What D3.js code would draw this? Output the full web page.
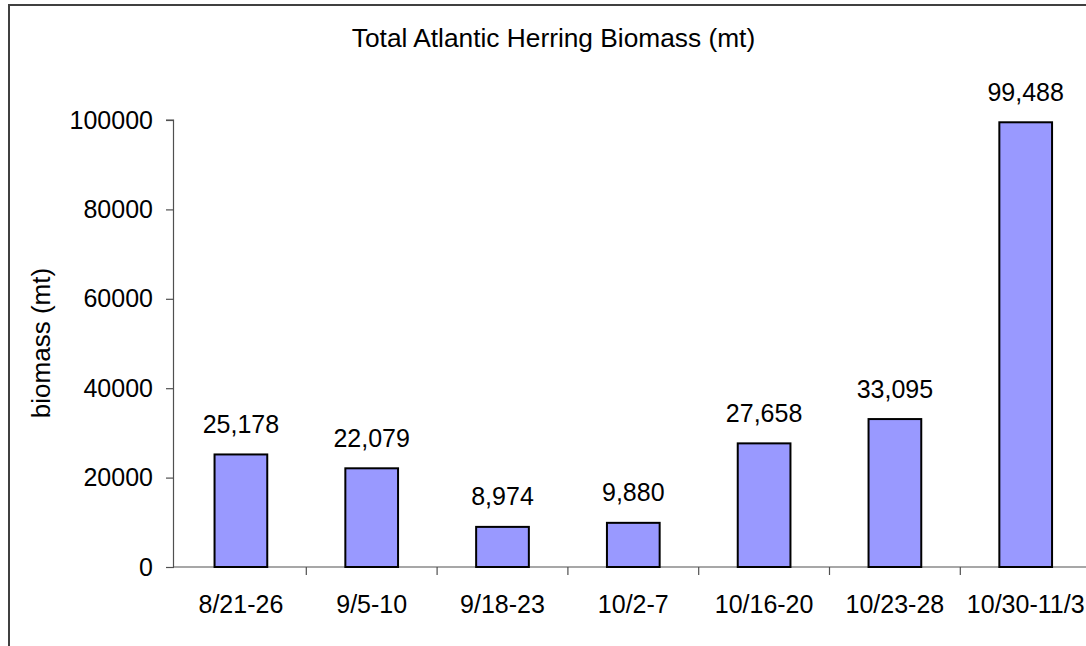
<!DOCTYPE html>
<html>
<head>
<meta charset="utf-8">
<script src="https://cdn.jsdelivr.net/npm/d3@7"></script>
<style>
  html, body { margin: 0; padding: 0; background: #fff; }
  svg { display: block; }
  text { font-family: "Liberation Sans", Arial, sans-serif; fill: #000; }
</style>
</head>
<body>
<svg id="chart" width="1086" height="646"></svg>
<script>
// Survey periods and total herring biomass (metric tons)
const periods = ["8/21-26", "9/5-10", "9/18-23", "10/2-7", "10/16-20", "10/23-28", "10/30-11/3"];
const biomass = [25178, 22079, 8974, 9880, 27658, 33095, 99488];
const yTicks = [0, 20000, 40000, 60000, 80000, 100000];
const chartTitle = "Total Atlantic Herring Biomass (mt)";
const yTitle = "biomass (mt)";

const svg = d3.select("#chart");
const W = 1086, H = 646;

// outer chart frame (extends past the right and bottom edges)
svg.append("rect")
  .attr("x", 9).attr("y", 5)
  .attr("width", W + 20).attr("height", H + 20)
  .attr("fill", "#fff")
  .attr("stroke", "#404040")
  .attr("stroke-width", 2);

const plotLeft = 174, plotTop = 120, plotBottom = 567;
const bandStep = 130.8;

const y = d3.scaleLinear().domain([0, 100000]).range([plotBottom, plotTop]);
const x = d3.scaleBand()
  .domain(periods)
  .range([plotLeft + 1.5, plotLeft + 1.5 + bandStep * periods.length])
  .padding(0);

const barW = x.bandwidth() * 0.403;

// title
svg.append("text")
  .attr("x", 553.5).attr("y", 47)
  .attr("text-anchor", "middle")
  .style("font-size", "26.3px")
  .text(chartTitle);

// y axis title
svg.append("text")
  .attr("transform", "translate(50,343) rotate(-90)")
  .attr("text-anchor", "middle")
  .style("font-size", "26px")
  .text(yTitle);

// y axis
const yAxis = svg.append("g")
  .attr("transform", `translate(${plotLeft},0)`)
  .call(d3.axisLeft(y).tickValues(yTicks).tickSize(8).tickPadding(13).tickFormat(d3.format("d")));
yAxis.selectAll("path, line").attr("stroke", "#505050").attr("stroke-width", 1.2);
yAxis.select(".domain").attr("d", `M-0.5,${plotBottom}V${plotTop}H-8`);
yAxis.selectAll("text")
  .style("font-family", '"Liberation Sans", Arial, sans-serif')
  .style("font-size", "25px")
  .attr("fill", "#000");

// x axis baseline
svg.append("line")
  .attr("x1", plotLeft).attr("x2", W + 10)
  .attr("y1", plotBottom).attr("y2", plotBottom)
  .attr("stroke", "#505050").attr("stroke-width", 1.2);

// category boundary ticks
const boundaries = periods.slice(1).map(p => x(p));
svg.selectAll(".xtick")
  .data(boundaries)
  .join("line")
  .attr("class", "xtick")
  .attr("x1", d => d).attr("x2", d => d)
  .attr("y1", plotBottom).attr("y2", plotBottom + 8)
  .attr("stroke", "#505050").attr("stroke-width", 1.2);

// category labels
svg.selectAll(".xlabel")
  .data(periods)
  .join("text")
  .attr("class", "xlabel")
  .attr("x", d => x(d) + x.bandwidth() / 2)
  .attr("y", 613)
  .attr("text-anchor", "middle")
  .style("font-size", "25px")
  .text(d => d);

// bars
const rows = periods.map((p, i) => ({ period: p, value: biomass[i] }));
svg.selectAll(".bar")
  .data(rows)
  .join("rect")
  .attr("class", "bar")
  .attr("x", d => x(d.period) + x.bandwidth() / 2 - barW / 2)
  .attr("y", d => y(d.value))
  .attr("width", barW)
  .attr("height", d => plotBottom - y(d.value))
  .attr("fill", "#9999FF")
  .attr("stroke", "#000")
  .attr("stroke-width", 2);

// value labels
const fmt = d3.format(",");
svg.selectAll(".vlabel")
  .data(rows)
  .join("text")
  .attr("class", "vlabel")
  .attr("x", d => x(d.period) + x.bandwidth() / 2)
  .attr("y", d => y(d.value) - 21.5)
  .attr("text-anchor", "middle")
  .style("font-size", "25px")
  .text(d => fmt(d.value));
</script>
</body>
</html>
